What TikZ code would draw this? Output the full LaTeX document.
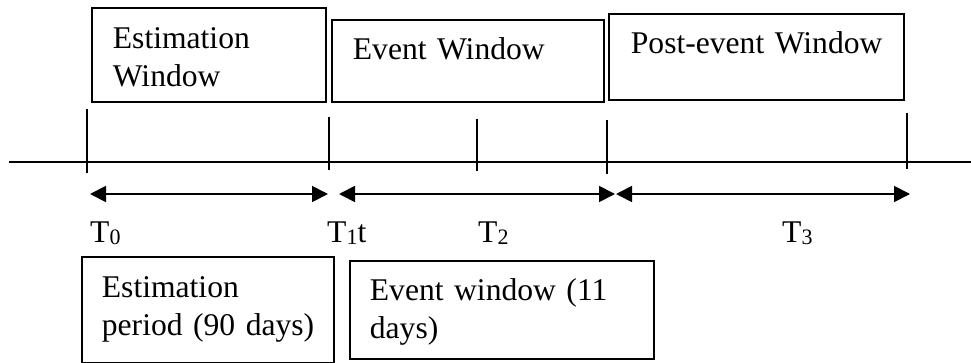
\documentclass[tikz,border=0pt]{standalone}
\usepackage{fontspec}
\setmainfont{Liberation Serif}
\usepackage{tikz}
\usetikzlibrary{arrows.meta}

% subscript as the word processor sets it
\newcommand{\tsub}[1]{\raisebox{-2pt}{\fontsize{22}{22}\selectfont #1}}

\begin{document}
\begin{tikzpicture}[
  x=1pt, y=-1pt,
  winbox/.style={draw, line width=1.8pt, anchor=north west, inner ysep=0pt, inner xsep=21pt, align=left,
    font=\fontsize{31.6}{38}\selectfont},
  tlabel/.style={anchor=base west, inner sep=0pt, font=\fontsize{31.6}{38}\selectfont},
  span/.style={{Triangle[length=16pt,width=16pt]}-{Triangle[length=16pt,width=16pt]}, line width=1.8pt}
]
  \useasboundingbox (0,0) rectangle (971,363);

  % windows above the time line
  \node[winbox, text width=192pt, text height=41pt, text depth=53pt] (estwin) at (91,7) {Estimation\\Window};
  \node[winbox, text width=230pt, text height=40pt, text depth=42pt] (evwin) at (331,19) {\mbox{Event Window}};
  \node[winbox, inner xsep=22pt, text width=251pt, text height=40pt, text depth=46pt] (postwin) at (608,13) {\mbox{Post-event Window}};

  % time line and ticks
  \coordinate (lineL) at (9,162);
  \coordinate (lineR) at (971,162);
  \draw[line width=1.8pt] (lineL) -- (lineR);
  \foreach \x/\a/\b in {87/109/173, 329/117/170, 477/119/171, 607/120/174, 907/113/169}
    \draw[line width=1.8pt] (\x,\a) -- (\x,\b);

  % spans
  \coordinate (a0) at (90,194);  \coordinate (a1) at (328,194);
  \coordinate (b0) at (339,194); \coordinate (b1) at (615,194);
  \coordinate (c0) at (616,194); \coordinate (c1) at (910,194);
  \draw[span] (a0) -- (a1);
  \draw[span] (b0) -- (b1);
  \draw[span] (c0) -- (c1);

  \node[tlabel] (T0) at (90,243) {T\tsub{0}};
  \node[tlabel] (T1) at (327,243) {T\tsub{1}t};
  \node[tlabel] (T2) at (478,243) {T\tsub{2}};
  \node[tlabel] (T3) at (782,243) {T\tsub{3}};

  % periods below
  \node[winbox, inner xsep=20pt, text width=212pt, text height=41pt, text depth=65pt] (estper) at (81,256) {Estimation\\\mbox{period (90 days)}};
  \node[winbox, inner xsep=20pt, text width=264pt, text height=40pt, text depth=58pt] (evper) at (349,260) {\mbox{Event window (11}\\days)};
\end{tikzpicture}
\end{document}
